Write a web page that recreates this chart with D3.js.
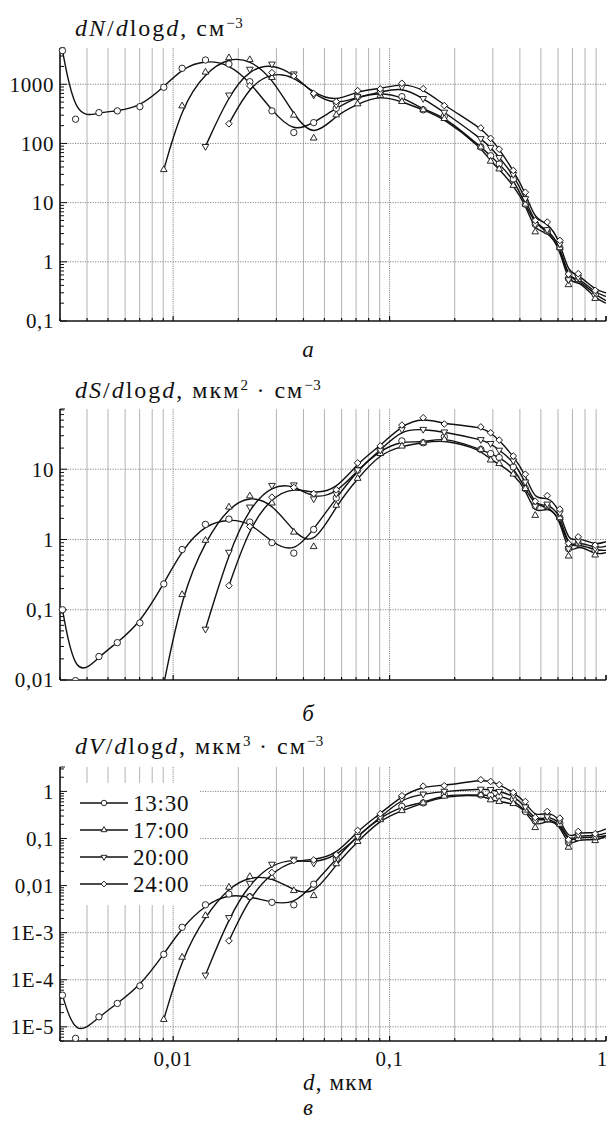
<!DOCTYPE html>
<html><head><meta charset="utf-8">
<script src="https://cdn.jsdelivr.net/npm/d3@7"></script>
<style>
body{margin:0;background:#fff;}
svg text{font-family:"Liberation Serif","DejaVu Serif",serif;fill:#111;}
</style></head><body>
<svg id="c" width="610" height="1121"></svg>
<script>
// ---------- data ----------
const diameters = [0.00308,0.00354,0.00454,0.00552,0.00702,0.00905,0.0110,0.0141,0.0181,0.0226,0.0286,0.0361,0.0446,0.0567,0.0712,0.0906,0.114,0.143,0.179,0.264,0.293,0.321,0.373,0.424,0.471,0.535,0.612,0.671,0.744,0.891,1.0];
const times = ["13:30","17:00","20:00","24:00"];
const _ = null;
// dN/dlogd, cm^-3
const dN_1330 = [3700,257,332,355,419,890,1860,2570,2200,1106,355,153,225,393,618,722,618,370,288,87,62,45,25,9.4,4.3,3.3,1.73,0.52,0.5,0.28,0.22];
const dN_1700 = [_,_,_,_,_,36,430,1600,2800,2600,1300,300,123,303,466,647,509,370,263,87,50,37,19.5,9.4,3.2,3.3,1.73,0.41,0.5,0.24,0.2];
const dN_2000 = [_,_,_,_,_,_,_,89,660,1800,2200,1500,660,450,618,725,904,576,338,121,86,58,30,11.7,4.3,3.5,2.0,0.5,0.55,0.3,0.26];
const dN_2400 = [_,_,_,_,_,_,_,_,215,940,1570,1380,700,509,780,833,1040,841,437,183,122,80,35,15,5.0,4.7,2.3,0.62,0.63,0.33,0.3];
// dS/dlogd, um^2 cm^-3
const dS_1330 = [0.10,0.0098,0.0216,0.034,0.065,0.233,0.72,1.64,1.95,1.77,0.90,0.64,1.39,3.9,9.7,18.7,25.3,23.8,29,19.1,16.7,14.7,10.8,5.3,3.0,3.0,2.04,0.74,0.88,0.7,0.7];
const dS_1700 = [_,_,_,_,_,0.0088,0.164,0.97,2.89,4.16,3.3,1.27,0.79,3.06,7.4,16.7,21.3,23.8,26.5,19.1,13.5,12,8.5,5.3,2.2,3.0,2.04,0.58,0.88,0.6,0.65];
const dS_2000 = [_,_,_,_,_,_,_,0.053,0.66,2.9,5.9,6.0,3.8,4.5,9.8,18.7,36.9,37,34,26.5,23.3,18.7,13.2,6.6,3.0,3.2,2.4,0.74,0.95,0.75,0.8];
const dS_2400 = [_,_,_,_,_,_,_,_,0.22,1.53,4.0,5.5,4.5,5.1,12.3,21.5,42.5,54,44,40,33,26,15.4,8.5,3.5,4.2,2.7,0.88,1.09,0.83,0.93];
// dV/dlogd, um^3 cm^-3
const dV_1330 = [4.7e-5,5.7e-6,1.63e-5,3.14e-5,7.4e-5,3.46e-4,1.3e-3,3.9e-3,6.6e-3,5.8e-3,4.4e-3,3.9e-3,0.0107,0.037,0.117,0.28,0.48,0.57,0.86,0.84,0.82,0.78,0.68,0.375,0.235,0.265,0.21,0.082,0.108,0.104,0.115];
const dV_1700 = [_,_,_,_,_,1.43e-5,3.0e-4,2.3e-3,9.2e-3,0.0155,0.0151,7.8e-3,6.1e-3,0.029,0.086,0.25,0.39,0.57,0.79,0.85,0.66,0.61,0.55,0.4,0.17,0.25,0.2,0.065,0.1,0.09,0.11];
const dV_2000 = [_,_,_,_,_,_,_,1.26e-4,2.1e-3,0.0112,0.0285,0.0365,0.030,0.042,0.11,0.284,0.70,0.88,1.01,1.12,1.1,1.0,0.82,0.47,0.24,0.29,0.24,0.083,0.12,0.11,0.13];
const dV_2400 = [_,_,_,_,_,_,_,_,6.7e-4,5.8e-3,0.019,0.034,0.035,0.045,0.148,0.335,0.81,1.29,1.32,1.77,1.63,1.39,0.95,0.61,0.28,0.375,0.27,0.094,0.141,0.126,0.16];

const xTickValues = [0.01,0.1,1];
const xTickLabels = ["0,01","0,1","1"];
const nTickValues = [0.1,1,10,100,1000], nTickLabels = ["0,1","1","10","100","1000"];
const sTickValues = [0.01,0.1,1,10], sTickLabels = ["0,01","0,1","1","10"];
const vTickValues = [1e-5,1e-4,1e-3,0.01,0.1,1], vTickLabels = ["1E-5","1E-4","1E-3","0,01","0,1","1"];

// ---------- layout ----------
const svg = d3.select("#c");
const L = 60, R = 606;
const x = d3.scaleLog().domain([0.003,1]).range([L,R]);
const symbols = [
  {type:d3.symbolCircle,size:32,rot:0},
  {type:d3.symbolTriangle2,size:32,rot:0},
  {type:d3.symbolTriangle2,size:32,rot:180},
  {type:d3.symbolSquare2,size:28,rot:45}
];

const panels = [
  {id:"N",top:48,bottom:321,dom:[0.1,4100],tv:nTickValues,tl:nTickLabels,series:[dN_1330,dN_1700,dN_2000,dN_2400],
   title:[["d",1],["N",1],["/",0],["d",1],["log",0],["d",1],[", см",0],["−3",2]],titleY:36,cap:"а",capY:357},
  {id:"S",top:409,bottom:680,dom:[0.01,72],tv:sTickValues,tl:sTickLabels,series:[dS_1330,dS_1700,dS_2000,dS_2400],
   title:[["d",1],["S",1],["/",0],["d",1],["log",0],["d",1],[", мкм",0],["2",2],[" · см",3],["−3",2]],titleY:398,cap:"б",capY:721},
  {id:"V",top:767,bottom:1041,dom:[5e-6,3.3],tv:vTickValues,tl:vTickLabels,series:[dV_1330,dV_1700,dV_2000,dV_2400],
   title:[["d",1],["V",1],["/",0],["d",1],["log",0],["d",1],[", мкм",0],["3",2],[" · см",3],["−3",2]],titleY:754,cap:"в",capY:1115}
];

function decadeVals(lo,hi){
  const out=[];
  for(let e=Math.floor(Math.log10(lo))-1;e<=Math.ceil(Math.log10(hi));e++){
    for(let k=1;k<=9;k++){const v=k*Math.pow(10,e); if(v>=lo*0.999 && v<=hi*1.001) out.push({v,k});}
  }
  return out;
}

panels.forEach((p,pi)=>{
  const y = d3.scaleLog().domain(p.dom).range([p.bottom,p.top]);
  const g = svg.append("g");
  // vertical grid
  decadeVals(0.003,1).forEach(({v,k})=>{
    if(v<=0.0031 || v>=0.999) return;
    g.append("line").attr("x1",x(v)).attr("x2",x(v)).attr("y1",p.top).attr("y2",p.bottom)
      .attr("stroke",k===1?"#888":"#b4b4b4").attr("stroke-width",1)
      .attr("stroke-dasharray",k===1?"1.2,1":null);
  });
  // horizontal grid
  p.tv.forEach(v=>{
    if(Math.abs(y(v)-p.bottom)<1) return;
    g.append("line").attr("x1",L).attr("x2",R).attr("y1",y(v)).attr("y2",y(v))
      .attr("stroke","#888").attr("stroke-width",1).attr("stroke-dasharray","1.2,1.3");
  });
  // legend box (panel 3)
  if(p.id==="V"){
    g.append("rect").attr("x",L+2).attr("y",783).attr("width",138).attr("height",122).attr("fill","#fff");
  }
  // axes
  g.append("line").attr("x1",L).attr("x2",L).attr("y1",p.top).attr("y2",p.bottom).attr("stroke","#111").attr("stroke-width",1.6);
  g.append("line").attr("x1",L).attr("x2",R).attr("y1",p.bottom).attr("y2",p.bottom).attr("stroke","#111").attr("stroke-width",1.6);
  g.append("line").attr("x1",R).attr("x2",R).attr("y1",p.bottom).attr("y2",p.bottom-5).attr("stroke","#111").attr("stroke-width",1.2);
  // y ticks
  decadeVals(p.dom[0],p.dom[1]).forEach(({v,k})=>{
    g.append("line").attr("x1",L).attr("x2",L+(k===1?7:4)).attr("y1",y(v)).attr("y2",y(v)).attr("stroke","#111").attr("stroke-width",1);
  });
  g.append("line").attr("x1",L).attr("x2",L+5).attr("y1",p.top).attr("y2",p.top).attr("stroke","#111").attr("stroke-width",1);
  // x ticks
  decadeVals(0.003,1).forEach(({v,k})=>{
    g.append("line").attr("x1",x(v)).attr("x2",x(v)).attr("y1",p.bottom).attr("y2",p.bottom-(k===1?5:3)).attr("stroke","#111").attr("stroke-width",1.2);
  });
  // y labels
  p.tv.forEach((v,i)=>{
    g.append("text").attr("x",54).attr("y",y(v)).attr("dy","0.35em").attr("text-anchor","end")
      .attr("font-size",21).attr("letter-spacing",0.6).text(p.tl[i]);
  });
  // title
  const t = g.append("text").attr("x",75).attr("y",p.titleY).attr("font-size",24).attr("letter-spacing",2);
  p.title.forEach(([s,st])=>{
    const ts = t.append("tspan").text(s);
    if(st===1) ts.attr("font-style","italic");
    if(st===2) ts.attr("font-size",15).attr("baseline-shift","super").attr("letter-spacing",0.5);
  });
  // caption
  g.append("text").attr("x",308).attr("y",p.capY).attr("text-anchor","middle").attr("font-size",23)
    .attr("font-style","italic").text(p.cap);

  // clip
  const cid = "clip"+pi;
  svg.append("clipPath").attr("id",cid).append("rect").attr("x",L-4).attr("y",p.top-4).attr("width",R-L+4).attr("height",p.bottom-p.top+4);
  const plot = svg.append("g").attr("clip-path",`url(#${cid})`);
  const line = d3.line().defined(d=>d.v!=null).x(d=>x(d.d)).y(d=>y(d.v)).curve(d3.curveBasis);
  p.series.forEach((arr,si)=>{
    const pts = diameters.map((d,i)=>({d,v:arr[i]})).filter(o=>o.v!=null);
    plot.append("path").attr("d",line(pts)).attr("fill","none").attr("stroke","#111").attr("stroke-width",1.4);
  });
  p.series.forEach((arr,si)=>{
    const pts = diameters.map((d,i)=>({d,v:arr[i]})).filter(o=>o.v!=null && o.d<0.99);
    const sy = symbols[si];
    plot.selectAll(null).data(pts).enter().append("path")
      .attr("d",d3.symbol().type(sy.type).size(sy.size)())
      .attr("transform",o=>`translate(${x(o.d)},${y(o.v)}) rotate(${sy.rot})`)
      .attr("fill","#fff").attr("stroke","#111").attr("stroke-width",0.9);
  });

  if(p.id==="V"){
    // x labels
    xTickValues.forEach((v,i)=>{
      svg.append("text").attr("x",Math.min(x(v),602)).attr("y",1066).attr("text-anchor","middle").attr("font-size",21)
        .attr("letter-spacing",i===xTickValues.length-1?0:0.6).text(xTickLabels[i]);
    });
    const xt = svg.append("text").attr("x",303).attr("y",1090).attr("font-size",23).attr("letter-spacing",1.2);
    xt.append("tspan").attr("font-style","italic").text("d");
    xt.append("tspan").text(", мкм");
    // legend
    times.forEach((tm,i)=>{
      const ly = 803 + i*27;
      const lg = svg.append("g");
      lg.append("line").attr("x1",80).attr("x2",128).attr("y1",ly).attr("y2",ly).attr("stroke","#111").attr("stroke-width",1.4);
      const sy = symbols[i];
      lg.append("path").attr("d",d3.symbol().type(sy.type).size(sy.size*0.75)())
        .attr("transform",`translate(104,${ly}) rotate(${sy.rot})`).attr("fill","#fff").attr("stroke","#111").attr("stroke-width",0.9);
      lg.append("text").attr("x",133).attr("y",ly).attr("dy","0.35em").attr("font-size",23).attr("letter-spacing",0.8).text(tm);
    });
  }
});
</script>
</body></html>
